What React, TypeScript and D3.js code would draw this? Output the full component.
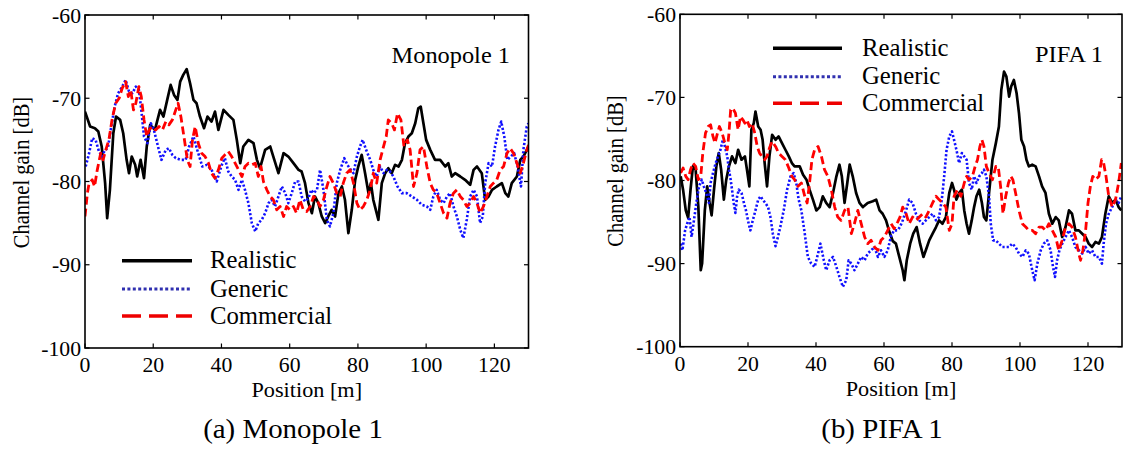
import React from 'react';
import * as d3 from 'd3';

type Pt = [number, number];

const positionTicks = [0, 20, 40, 60, 80, 100, 120];
const gainTicks = [-60, -70, -80, -90, -100];
const seriesNames = ['Realistic', 'Generic', 'Commercial'];
const panelTitles = ['Monopole 1', 'PIFA 1'];
const panelCaptions = ['(a) Monopole 1', '(b) PIFA 1'];

const monoRealistic: Pt[] = [[0,-71.6],[1.5,-73.4],[2.9,-73.6],[3.9,-74],[4.9,-75.8],[5.9,-80.2],[6.5,-84.4],[7.3,-81],[8.3,-74.2],[9.1,-72.2],[10.3,-72.6],[11.2,-74.2],[12.2,-77.4],[12.9,-79],[13.7,-77],[14.7,-78],[15.3,-79.4],[16.3,-77.4],[17.3,-79.6],[18.1,-75.8],[19.1,-73.2],[20.5,-73.8],[22,-71.4],[23,-72.2],[24.1,-70.2],[25.1,-68.4],[26.1,-69.6],[27.1,-70.2],[27.9,-68],[28.8,-67.2],[29.8,-66.5],[30.8,-68.2],[31.8,-70.2],[32.7,-70.6],[33.7,-72.2],[34.9,-73.6],[35.9,-72.2],[37.1,-72.8],[38.1,-71.6],[39.1,-73.8],[40.6,-71.4],[42,-72],[43.5,-72.6],[44.5,-75],[45.5,-77.8],[46.4,-75.8],[47.9,-75],[49.4,-75.4],[50.4,-77.4],[51.3,-78.4],[52.8,-76.2],[54.3,-75.8],[55.2,-77],[56.7,-79],[58.2,-76.6],[59.6,-77],[61.1,-77.8],[62.6,-78.6],[63.5,-78.8],[64.5,-80.2],[65.5,-82.6],[66.5,-83.8],[67.4,-81.8],[68.4,-82.6],[69.4,-84.2],[70.4,-85],[71.3,-84.2],[72.3,-83.4],[73.3,-84.2],[74.3,-81.4],[75.3,-80.6],[76.2,-82.2],[77.2,-86.2],[78.2,-83.4],[79.2,-79.8],[80.1,-78.2],[81.1,-76.8],[82.1,-79],[83.1,-81.4],[83.8,-80.2],[84.5,-82.2],[86,-84.6],[87,-80.2],[88,-79],[88.9,-78.4],[89.9,-79],[90.9,-78],[91.9,-78.2],[92.9,-77.4],[93.8,-75.4],[94.8,-74.6],[95.8,-74.2],[96.8,-73],[97.7,-71.2],[98.4,-71],[99.2,-73],[100,-75],[101.2,-76.2],[102.6,-77.4],[104.1,-77.4],[105.6,-78.2],[106.5,-77.8],[107.5,-79.4],[108.5,-79],[110,-79.4],[111.4,-79.8],[112.9,-80.4],[113.9,-78.6],[114.9,-78.2],[116.3,-79],[117.3,-82.2],[118.3,-81.8],[119.3,-81],[120.7,-80.6],[122.2,-80.2],[123.2,-81.4],[124.1,-81.8],[125.1,-80.2],[126.6,-79.4],[127.6,-77.4],[128.5,-77],[130,-75.8]];

const monoGeneric: Pt[] = [[0.2,-78.2],[1.2,-76.6],[2.1,-74.8],[3.1,-75],[4.1,-76.4],[5.1,-77],[5.8,-76.2],[6.7,-76],[7.7,-73.4],[8.7,-71],[9.7,-69.4],[10.9,-68.6],[11.9,-67.8],[12.9,-69.2],[13.9,-69.4],[14.9,-68.6],[15.8,-69],[16.5,-71.4],[17.3,-74.6],[18.3,-75.4],[19.3,-73],[20.2,-73.8],[21.4,-75.8],[22.4,-77.4],[23.7,-76.2],[24.6,-76],[25.6,-76.8],[26.6,-77.2],[28.1,-77.4],[29.5,-77.4],[30.5,-75.8],[31.8,-74.6],[32.9,-76.2],[34.4,-78.2],[35.7,-78],[37.1,-78.6],[38.6,-80],[40.1,-78],[41,-77.2],[42,-78.8],[43,-79.4],[44,-79.8],[45,-81],[46,-79.8],[46.9,-81],[47.9,-82.6],[48.9,-85],[49.9,-86],[50.8,-85],[51.8,-84.6],[52.8,-83.8],[53.8,-82.6],[54.7,-82.2],[55.7,-83],[56.7,-81.8],[57.7,-80.6],[58.7,-81.4],[59.6,-82.6],[60.6,-81.4],[61.6,-80],[62.6,-80],[63.5,-81.8],[64.5,-82.4],[65.5,-82],[66.3,-81],[67,-81.4],[68,-81],[68.9,-78.6],[69.9,-81],[70.9,-84.6],[71.8,-85.4],[72.8,-83.8],[73.8,-80.2],[74.8,-78.6],[76,-77.2],[76.9,-78],[77.9,-78.6],[78.7,-79],[79.7,-77],[80.6,-75.8],[81.4,-75],[82.4,-76.2],[83.6,-77.4],[84.5,-78.6],[85.5,-79.4],[86.5,-78.2],[87.5,-79],[88.5,-78.6],[89.4,-78.8],[90.4,-79.4],[91.6,-80.6],[92.9,-81.4],[94.3,-81.4],[95.8,-81.8],[97.3,-82.2],[98.7,-82.8],[100.2,-83],[101.2,-83.4],[102.1,-81.8],[103.1,-81],[104.1,-82.2],[105.1,-82.6],[106.1,-81.8],[107,-81.4],[108,-83],[109,-84.2],[110,-85.8],[110.9,-86.8],[111.9,-84.6],[112.9,-81.8],[113.9,-81],[114.9,-81.8],[115.8,-85],[116.6,-84.2],[117.3,-80.2],[118.3,-77.8],[119.3,-78.2],[120.2,-75.8],[121.2,-73.8],[122,-72.8],[122.9,-74.6],[123.8,-77.4],[124.8,-77],[125.8,-76.6],[126.8,-78.2],[127.8,-80.6],[128.5,-76.2],[129.5,-73.4],[130,-73]];

const monoCommercial: Pt[] = [[0,-84.2],[0.7,-81.4],[1.2,-80.2],[2.1,-79.8],[2.8,-80.6],[3.6,-78.6],[4.6,-76.6],[5.3,-77.4],[6.1,-76.2],[7,-75],[8,-72.4],[9,-70.6],[10,-70],[10.9,-68.8],[11.9,-68],[12.7,-69.8],[13.4,-69],[14.2,-71.4],[14.9,-70.6],[15.8,-68.6],[16.5,-69.8],[17.3,-72.6],[18.1,-74.6],[18.8,-73.8],[19.7,-73.4],[20.7,-73.8],[21.7,-73.4],[22.7,-73.8],[23.7,-72.8],[24.6,-73.2],[25.6,-72.6],[26.6,-71.4],[27.3,-70.6],[28.1,-72.2],[29,-74.6],[30,-77.4],[30.8,-78.2],[31.5,-75],[32.3,-73.4],[33.2,-75.4],[34.2,-76.6],[35.2,-77],[36.2,-77.8],[37.1,-79],[38.1,-79.6],[39.1,-78.6],[40.1,-77.2],[41,-76.8],[42,-76.4],[43,-77],[44,-77.8],[45,-78.6],[46,-79.4],[46.9,-78.2],[47.9,-77.8],[48.9,-78],[49.9,-77.8],[50.8,-79.4],[51.6,-78.2],[52.3,-80],[53.3,-81],[54.3,-81.8],[55.2,-82.2],[56.2,-83.4],[57.2,-83],[58.2,-84.2],[59.1,-83],[60.1,-83.4],[61.1,-83],[62,-83.8],[63,-82.2],[64,-83.4],[65,-83.6],[66,-83],[67,-81.8],[68,-82.2],[68.9,-83],[69.9,-82.2],[70.9,-80.6],[71.8,-79.4],[72.8,-80.2],[73.8,-81.4],[74.8,-81.8],[75.7,-80.2],[76.7,-79],[77.7,-78.6],[78.7,-80.2],[79.7,-82.6],[80.6,-83.4],[81.6,-83],[82.6,-82.2],[83.6,-81],[84.5,-79],[85.5,-80.2],[86.5,-77.4],[87.5,-75.8],[88.3,-74.6],[88.9,-72.6],[89.9,-73],[90.7,-73.8],[91.6,-71.8],[92.6,-72.6],[93.5,-75.8],[94.5,-75],[95.3,-76.2],[96.3,-80.6],[97.3,-79],[98.2,-76.2],[99.2,-75.8],[100.2,-78.2],[101.2,-80.2],[102.1,-81],[103.1,-81.4],[104.1,-82.6],[105.1,-83.8],[106.1,-84.4],[107,-82.6],[108,-81.4],[109,-81],[110,-81.8],[110.9,-82.2],[111.9,-83],[112.9,-82.6],[113.9,-81.8],[114.9,-82.6],[115.8,-83.8],[116.8,-83],[117.8,-81.8],[118.8,-80.6],[119.7,-80.2],[120.7,-79.8],[121.7,-78.6],[122.7,-78.2],[123.7,-76.6],[124.6,-76],[125.6,-76.6],[126.6,-77.8],[127.6,-79],[128.5,-77.8],[129.5,-76.2],[130,-75.6]];

const pifaRealistic: Pt[] = [[0.2,-79.5],[0.9,-81.1],[1.7,-83.6],[2.4,-84.5],[3.1,-81.1],[3.8,-78.3],[4.6,-78.7],[5.4,-83.2],[6.1,-90.8],[6.5,-90],[7.3,-83.6],[8,-80.7],[8.7,-82.7],[9.3,-84.2],[10,-81.1],[10.7,-78.3],[11.4,-76.7],[12.1,-78.7],[12.9,-82.3],[13.6,-79.9],[14.4,-78.3],[15.3,-77.1],[16.3,-77.9],[17.1,-76.3],[18.1,-77.5],[19.1,-77.1],[19.7,-78.7],[20.4,-80.7],[21,-73.9],[21.7,-73.1],[22.2,-71.7],[23,-73.5],[23.7,-73.9],[24.3,-75.1],[24.9,-77.9],[25.6,-80.7],[26.3,-77.1],[27.1,-74.5],[28.1,-75.1],[29,-74.7],[30,-75.5],[31,-76.3],[32,-77.1],[32.9,-77.9],[33.7,-78.3],[35.2,-78.3],[36.2,-79.3],[37.2,-79.9],[38.1,-81.1],[39.1,-82.3],[40.1,-83.6],[41.1,-83.2],[42,-81.9],[43,-82.7],[44,-83.2],[45,-81.5],[46,-79.5],[46.9,-78.1],[47.6,-79.5],[48.4,-82.7],[49.2,-80.3],[49.9,-78.1],[50.8,-79.5],[51.8,-81.5],[52.8,-82.7],[53.8,-83.2],[55.2,-82.7],[56.7,-82.5],[57.7,-82.3],[58.7,-83.6],[59.6,-84],[60.6,-84.8],[61.6,-86.2],[62.6,-87.3],[63.5,-87.6],[64.5,-89.2],[65.5,-90.8],[66,-92],[66.7,-89.6],[67.7,-87.6],[68.6,-86.4],[69.6,-85.6],[70.6,-87.6],[71.6,-89.2],[72.3,-88.4],[73.3,-87.2],[74.3,-86.4],[75.3,-85.6],[76.2,-84.8],[77.2,-85.2],[78.2,-84.4],[79.2,-81.5],[80,-80.3],[80.6,-81.1],[81.3,-82.3],[82.1,-81.5],[82.9,-81.1],[83.6,-83.6],[84.3,-85.2],[85,-86.4],[85.8,-84.8],[86.5,-83.2],[87.2,-81.9],[88,-81.1],[88.8,-82.7],[89.4,-84.4],[90.1,-84.8],[90.9,-81.5],[91.9,-77.5],[92.9,-75.5],[93.8,-73.5],[94.5,-69.1],[95.3,-66.9],[96,-67.5],[96.8,-69.9],[97.4,-68.7],[98.2,-67.9],[99,-69.5],[99.7,-71.9],[100.4,-75.1],[101.2,-75.9],[101.9,-77.5],[102.6,-78.3],[103.6,-78.1],[104.6,-78.3],[105.6,-79.5],[106.5,-80.7],[107.5,-81.5],[108.5,-84],[109.5,-85.2],[110.5,-84.4],[111.4,-84.8],[112.4,-86.8],[113.4,-85.6],[114.4,-83.6],[115.3,-84],[116.3,-86],[117.3,-86],[118.3,-86.4],[119.3,-86.8],[120.2,-87.6],[121.2,-88],[122.2,-87.4],[123.2,-87.6],[124.1,-86.8],[125.1,-84],[126.1,-81.9],[127.1,-82.7],[128.1,-82.3],[129,-83.2],[129.8,-83.6]];

const pifaGeneric: Pt[] = [[0.2,-87.6],[0.7,-88.4],[1.5,-86],[2.1,-85.2],[2.8,-84.4],[3.4,-86.8],[4.1,-84.8],[4.8,-82.7],[5.6,-80.7],[6.4,-79.9],[7,-80.7],[7.7,-81.5],[8.5,-82.7],[9,-80.3],[9.7,-79.1],[10.5,-77.9],[11.2,-77.1],[11.9,-76.3],[12.6,-75.1],[13.2,-75.9],[13.9,-77.1],[14.4,-78.7],[14.9,-79.9],[15.3,-81.1],[15.8,-82.7],[16.3,-83.9],[16.8,-81.9],[17.3,-81.1],[18.1,-81.5],[18.8,-82.7],[19.4,-83.6],[20.2,-85.2],[20.7,-86],[21.4,-84.8],[22.2,-83.6],[23,-82.3],[23.7,-81.9],[24.3,-82.3],[25.1,-82.7],[25.9,-83.2],[26.6,-84.4],[27.3,-86.4],[28.1,-87.9],[28.8,-86.8],[29.5,-85.6],[30.5,-83.6],[31.5,-81.1],[32.5,-79.5],[33.4,-79.1],[34.2,-80.3],[34.9,-82.3],[35.7,-83.6],[36.7,-86.4],[37.6,-89.2],[38.6,-90],[39.6,-90.4],[40.6,-88.8],[41.3,-87.6],[42.3,-89.6],[43,-90.8],[44,-89.6],[45,-89.2],[46,-90.4],[46.9,-91.6],[47.9,-92.8],[48.9,-92],[49.6,-89.6],[50.4,-90],[51.3,-90.8],[52.3,-90],[53.3,-89.2],[54.3,-89.6],[55.2,-88.8],[56.2,-88.4],[57.2,-88],[58.2,-89.2],[59.1,-88.4],[60.1,-89.2],[61.1,-88.4],[62.1,-86.6],[63,-86],[64,-86],[64.7,-85.6],[65.5,-84.8],[66.5,-83.6],[67.4,-82.3],[68.4,-82.7],[69.4,-84],[70.4,-84.8],[71.4,-85.2],[72.3,-84.8],[73.3,-84.4],[74.3,-84],[75.3,-84.8],[76.2,-84.4],[77,-82.3],[77.7,-79.5],[78.4,-76.3],[79.2,-74.7],[80,-74.1],[80.6,-75.1],[81.3,-76.3],[82.1,-77.9],[82.9,-76.7],[83.6,-77.1],[84.3,-77.5],[85,-80.3],[85.8,-81.1],[86.5,-79.5],[87.2,-80.3],[88,-79.5],[88.8,-79.1],[89.4,-78.7],[90.1,-79.5],[90.9,-81.9],[91.4,-85.2],[92.1,-87.2],[92.9,-87.2],[93.8,-87.6],[94.8,-88],[95.8,-88],[96.8,-88],[97.7,-87.6],[98.7,-88],[99.7,-88.8],[100.7,-89.2],[101.7,-88.4],[102.6,-88.8],[103.6,-90.8],[104.3,-92],[105.1,-90],[106.1,-88.4],[107,-87.6],[108,-87.2],[109,-88.4],[109.7,-90.4],[110.3,-91.6],[110.9,-89.6],[111.6,-88.4],[112.4,-87.6],[113.4,-86.8],[114.4,-86],[115.3,-86.8],[116.3,-88],[117.3,-88.4],[118.3,-88.8],[119.3,-88],[120.2,-88.8],[121.2,-88.4],[122.2,-89.2],[123.2,-89.2],[124.1,-90],[124.6,-87.6],[125.3,-85.2],[126.1,-84],[127.1,-83.2],[128.1,-82.3],[129,-82.7],[129.8,-81.9]];

const pifaCommercial: Pt[] = [[0.2,-79.1],[0.9,-78.5],[1.7,-79.5],[2.4,-79.9],[3.1,-78.7],[3.8,-77.9],[4.6,-78.3],[5.4,-79.9],[6.1,-79.5],[6.7,-76.7],[7.5,-74.3],[8.3,-73.5],[9,-73.3],[9.7,-74.7],[10.3,-75.5],[10.9,-74.5],[11.6,-73.5],[12.4,-74.3],[13.2,-75.5],[13.9,-76.3],[14.4,-74.3],[14.9,-71.5],[15.5,-71.3],[16.3,-71.9],[17.1,-73.9],[17.8,-72.3],[18.5,-72.7],[19.1,-73.1],[19.7,-72.7],[20.4,-73.5],[21.2,-73.1],[22,-74.3],[22.7,-75.9],[23.4,-76.7],[24.1,-77.1],[24.9,-77.5],[25.6,-77.1],[26.3,-76.1],[27.1,-75.3],[28.1,-75.9],[29,-76.7],[30,-77.1],[31,-77.5],[32,-78.5],[32.9,-79.5],[33.7,-79.9],[34.7,-80.7],[35.7,-80.3],[36.7,-81.9],[37.4,-82.7],[38.1,-80.3],[38.8,-77.5],[39.6,-76.3],[40.6,-75.9],[41.6,-77.1],[42.5,-78.7],[43.5,-79.5],[44.5,-81.1],[45.5,-83.2],[46.4,-84.4],[47.4,-84.8],[48.4,-83.6],[49.4,-83.2],[50.4,-86.4],[51.3,-85.2],[52.3,-83.6],[53.3,-85.2],[54.3,-86.8],[55.2,-87.6],[56.2,-87.2],[57.2,-88],[58.2,-88.4],[59.1,-87.2],[60.1,-86.8],[61.1,-86],[62.1,-85.2],[63,-85.8],[64,-85],[64.7,-84.4],[65.5,-83.2],[66.5,-84],[67.4,-85.2],[68.4,-84.4],[69.4,-84.8],[70.4,-84.4],[71.4,-84],[72.3,-84.4],[73.3,-83.6],[74.3,-82.7],[75.3,-81.9],[76.2,-82.3],[77.2,-82.7],[78.2,-83.2],[79.2,-86],[80,-85.2],[80.6,-81.9],[81.6,-81.1],[82.6,-81.9],[83.6,-80.3],[84.3,-79.5],[85,-79.9],[86,-79.5],[86.8,-78.3],[87.5,-77.5],[88.2,-75.9],[88.8,-75.1],[89.4,-75.9],[90.1,-78.3],[90.9,-79.1],[91.9,-79.9],[92.9,-78.3],[93.6,-78.3],[94.4,-81.1],[95,-84],[95.8,-81.9],[96.6,-80.3],[97.3,-79.5],[97.9,-79.9],[98.7,-81.5],[99.7,-83.6],[100.7,-85.2],[101.7,-85.6],[102.6,-86],[103.6,-86],[104.6,-86.4],[105.6,-85.6],[106.5,-85.6],[107.5,-86],[108.5,-85.2],[109.5,-86],[110.5,-86.8],[111.4,-88.4],[112.4,-87.2],[113.4,-85.6],[114.4,-85.2],[115.3,-85.6],[116.3,-86.8],[117.3,-88.8],[117.8,-89.6],[118.5,-88.4],[119.3,-86],[120,-82.7],[120.7,-80.7],[121.4,-79.5],[122.2,-79.9],[123.2,-79.5],[124,-77.5],[124.6,-77.9],[125.3,-79.5],[126.1,-81.9],[127.1,-83.2],[128.1,-82.3],[129,-80.3],[129.8,-77.9]];

const FONT = "'Liberation Serif', 'Times New Roman', Times, serif";

const lineStyles = [
  { stroke: '#000000', width: 2.7, dash: undefined as string | undefined, legendStroke: '#000000', legendWidth: 3.4, legendDash: undefined as string | undefined },
  { stroke: '#1010ff', width: 2.6, dash: '2.2,2', legendStroke: '#3030b0', legendWidth: 3, legendDash: '3,2.4' },
  { stroke: '#ff0000', width: 2.8, dash: '8,4', legendStroke: '#ee0000', legendWidth: 3.4, legendDash: '19,8' },
];

type PanelCfg = {
  id: string;
  x0: number; x1: number; y0: number; y1: number;
  series: Pt[][];
  title: string; titleX: number; titleY: number;
  legX0: number; legX1: number; legTextX: number; legY: number[];
  caption: string; captionX: number;
  yLabelX: number; yLabelY: number;
};

function STxt(props: { x: number; y: number; size: number; sx?: number; anchor?: string; children: React.ReactNode }) {
  const { x, y, size, sx = 1.1, anchor = 'start', children } = props;
  return (
    <text transform={`translate(${x},${y}) scale(${sx},1)`} fontSize={size} textAnchor={anchor as any} fontFamily={FONT} fill="#000">
      {children}
    </text>
  );
}

function Panel({ cfg }: { cfg: PanelCfg }) {
  const xs = d3.scaleLinear().domain([0, 130]).range([cfg.x0, cfg.x1]);
  const ys = d3.scaleLinear().domain([-100, -60]).range([cfg.y1, cfg.y0]);
  const line = d3.line<Pt>().x((d) => xs(d[0])).y((d) => ys(d[1]));
  const tl = 4.5;
  return (
    <g>
      <defs>
        <clipPath id={`clip-${cfg.id}`}>
          <rect x={cfg.x0} y={cfg.y0} width={cfg.x1 - cfg.x0} height={cfg.y1 - cfg.y0} />
        </clipPath>
      </defs>
      <g clipPath={`url(#clip-${cfg.id})`}>
        {cfg.series.map((s, i) => (
          <path key={i} d={line(s) || ''} fill="none" stroke={lineStyles[i].stroke} strokeWidth={lineStyles[i].width}
            strokeDasharray={lineStyles[i].dash} strokeLinejoin="round" />
        ))}
      </g>
      <rect x={cfg.x0} y={cfg.y0} width={cfg.x1 - cfg.x0} height={cfg.y1 - cfg.y0} fill="none" stroke="#000" strokeWidth={1.6} />
      {positionTicks.map((t) => (
        <g key={`xt${t}`}>
          <line x1={xs(t)} x2={xs(t)} y1={cfg.y1} y2={cfg.y1 - tl} stroke="#000" strokeWidth={1.2} />
          <line x1={xs(t)} x2={xs(t)} y1={cfg.y0} y2={cfg.y0 + tl} stroke="#000" strokeWidth={1.2} />
          <STxt x={xs(t)} y={cfg.y1 + 24} size={20.5} sx={1.06} anchor="middle">{t}</STxt>
        </g>
      ))}
      {gainTicks.map((t) => (
        <g key={`yt${t}`}>
          <line x1={cfg.x0} x2={cfg.x0 + tl} y1={ys(t)} y2={ys(t)} stroke="#000" strokeWidth={1.2} />
          <line x1={cfg.x1} x2={cfg.x1 - tl} y1={ys(t)} y2={ys(t)} stroke="#000" strokeWidth={1.2} />
          <STxt x={cfg.x0 - 4} y={ys(t) + 7.5} size={20.5} sx={1.06} anchor="end">{t}</STxt>
        </g>
      ))}
      <STxt x={(cfg.x0 + cfg.x1) / 2} y={cfg.y1 + 49} size={21} sx={1.06} anchor="middle">Position [m]</STxt>
      <text transform={`translate(${cfg.yLabelX},${cfg.yLabelY}) rotate(-90) scale(1,1.12)`} fontSize={20.5} textAnchor="middle" fontFamily={FONT}>Channel gain [dB]</text>
      <STxt x={cfg.titleX} y={cfg.titleY} size={23} sx={1.06} anchor="end">{cfg.title}</STxt>
      {seriesNames.map((n, i) => (
        <g key={n}>
          <line x1={cfg.legX0} x2={cfg.legX1} y1={cfg.legY[i]} y2={cfg.legY[i]} stroke={lineStyles[i].legendStroke}
            strokeWidth={lineStyles[i].legendWidth} strokeDasharray={lineStyles[i].legendDash} />
          <STxt x={cfg.legTextX} y={cfg.legY[i] + 7.5} size={24.5} sx={1.01}>{n}</STxt>
        </g>
      ))}
      <STxt x={cfg.captionX} y={438} size={27} sx={1.07} anchor="middle">{cfg.caption}</STxt>
    </g>
  );
}

export default function App() {
  const panels: PanelCfg[] = [
    {
      id: 'a', x0: 85, x1: 528.5, y0: 15, y1: 348,
      series: [monoRealistic, monoGeneric, monoCommercial],
      title: panelTitles[0], titleX: 510, titleY: 63,
      legX0: 122, legX1: 192, legTextX: 210, legY: [260.7, 289, 316],
      caption: panelCaptions[0], captionX: 293,
      yLabelX: 29, yLabelY: 172.5,
    },
    {
      id: 'b', x0: 680, x1: 1122, y0: 14.3, y1: 346.7,
      series: [pifaRealistic, pifaGeneric, pifaCommercial],
      title: panelTitles[1], titleX: 1103, titleY: 62,
      legX0: 773, legX1: 842, legTextX: 862, legY: [48.3, 76.7, 103.3],
      caption: panelCaptions[1], captionX: 882,
      yLabelX: 623, yLabelY: 171,
    },
  ];
  return (
    <svg width={1123} height={450} viewBox="0 0 1123 450" style={{ position: 'absolute', left: 0, top: 0, background: '#fff' }}>
      <rect x={0} y={0} width={1123} height={450} fill="#fff" />
      {panels.map((p) => <Panel key={p.id} cfg={p} />)}
    </svg>
  );
}
